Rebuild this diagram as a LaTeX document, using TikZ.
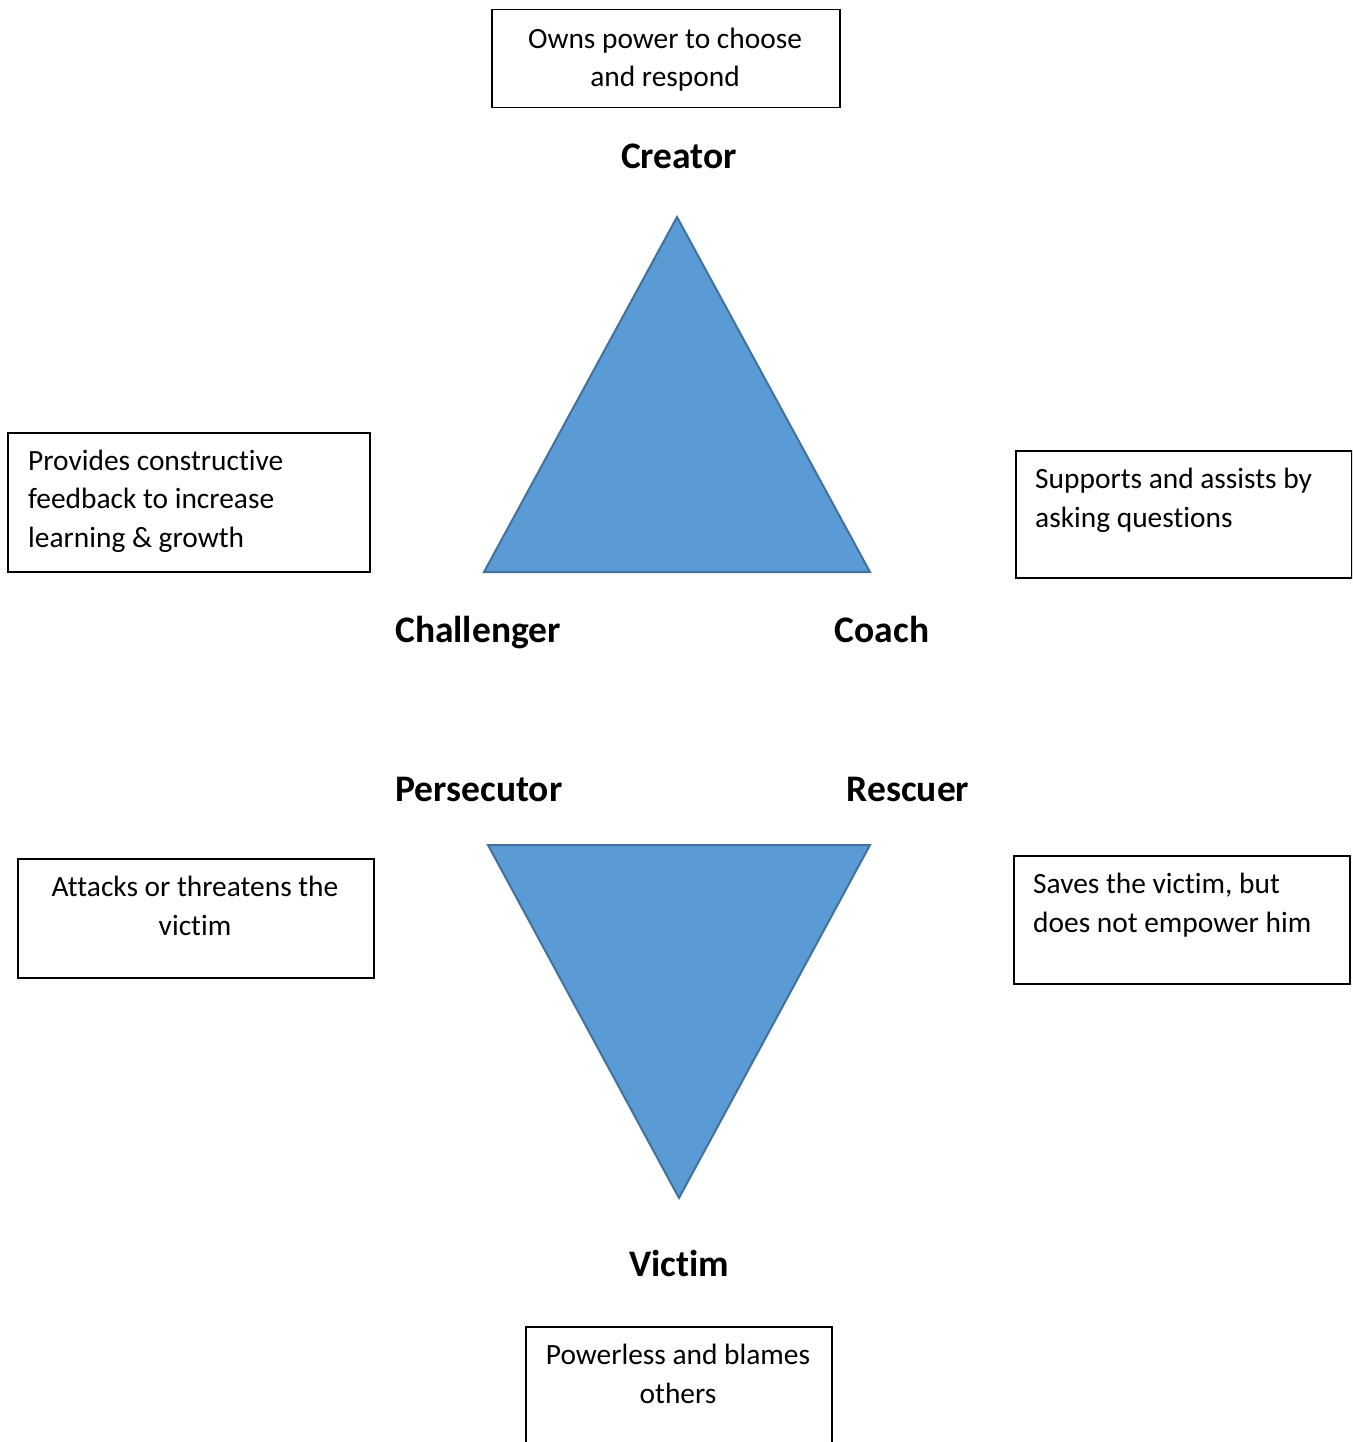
\documentclass[tikz,border=0pt]{standalone}
\usepackage{fontspec}
\setmainfont{Carlito}[Ligatures=NoCommon]
\definecolor{triFill}{HTML}{5B9BD5}
\definecolor{triLine}{HTML}{41719C}
\begin{document}
\begin{tikzpicture}[x=1pt,y=-1pt,
  box/.style={draw=black, line width=1.5pt, rectangle, inner sep=0pt, anchor=north west},
  desc/.style={inner sep=0pt, font=\fontsize{29.4}{38.5}\selectfont},
  role/.style={inner sep=0pt, anchor=base, font=\fontsize{37.5}{44}\selectfont\bfseries},
  tri/.style={fill=triFill, draw=triLine, line width=2pt, line join=miter}]
\useasboundingbox (0,0) rectangle (1352,1442);
\clip (0,0) rectangle (1352,1442);

% upper triangle: creator / challenger / coach
\coordinate (upTop) at (677,217);
\coordinate (upLeft) at (484,572);
\coordinate (upRight) at (870,572);
\draw[tri] (upTop) -- (upRight) -- (upLeft) -- cycle;

% lower triangle: persecutor / rescuer / victim
\coordinate (dnLeft) at (488,845);
\coordinate (dnRight) at (870,845);
\coordinate (dnBottom) at (679,1198);
\draw[tri] (dnLeft) -- (dnRight) -- (dnBottom) -- cycle;

% role names
\node[role] (creator) at (679,169) {Creator};
\node[role] (challenger) at (478,642) {Challenger};
\node[role] (coach) at (882,642) {Coach};
\node[role] (persecutor) at (479,801) {Persecutor};
\node[role] (rescuer) at (908,801) {Rescuer};
\node[role] (victim) at (679,1276) {Victim};

% description boxes (text nodes anchored on the baseline of their last line)
\node[box, minimum width=348pt, minimum height=98pt] (creatorBox) at (491,9) {};
\node[desc, anchor=base, align=center] (creatorText) at (665,87)
  {Owns power to choose\\and respond};

\node[box, minimum width=362pt, minimum height=139pt] (challengerBox) at (7,432) {};
\node[desc, anchor=base west, align=left] (challengerText) at (28,547)
  {Provides constructive\\feedback to increase\\learning \& growth};

\node[box, minimum width=336pt, minimum height=127pt] (coachBox) at (1015,450) {};
\node[desc, anchor=base west, align=left] (coachText) at (1035,527)
  {Supports and assists by\\asking questions};

\node[box, minimum width=356pt, minimum height=119pt] (persecutorBox) at (17,858) {};
\node[desc, anchor=base, align=center] (persecutorText) at (195,935)
  {Attacks or threatens the\\victim};

\node[box, minimum width=336pt, minimum height=128pt] (rescuerBox) at (1013,855) {};
\node[desc, anchor=base west, align=left] (rescuerText) at (1033,932)
  {Saves the victim, but\\does not empower him};

\node[box, minimum width=306pt, minimum height=200pt] (victimBox) at (525,1326) {};
\node[desc, anchor=base, align=center] (victimText) at (678,1403)
  {Powerless and blames\\others};
\end{tikzpicture}
\end{document}
